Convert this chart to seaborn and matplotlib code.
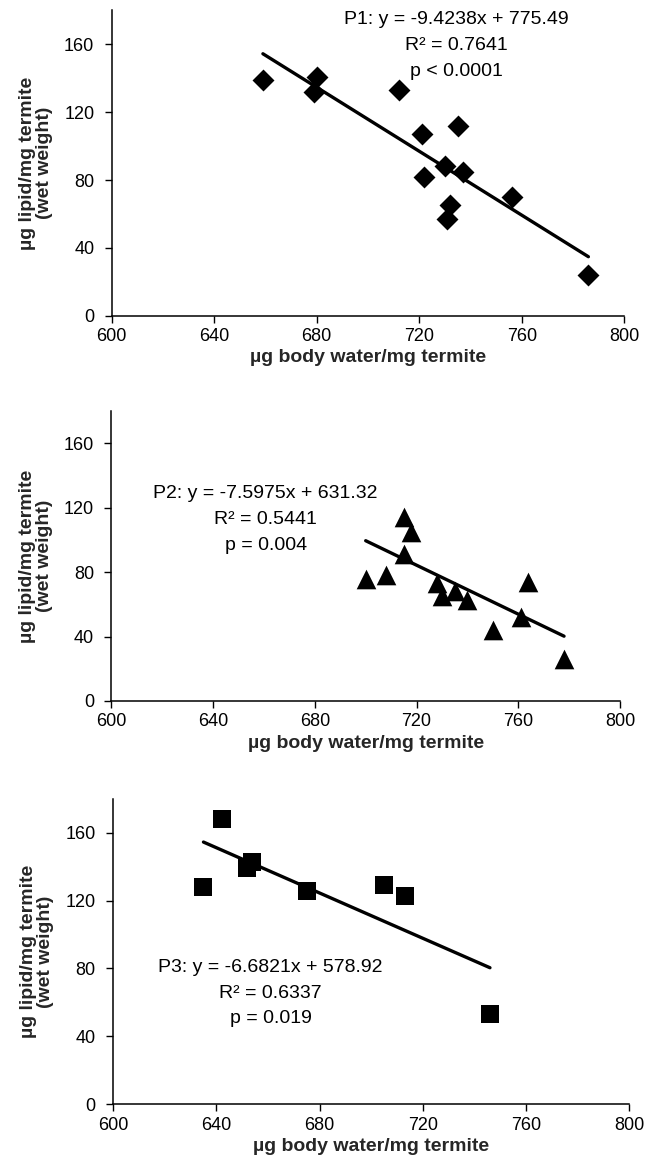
import numpy as np
import pandas as pd
import matplotlib
matplotlib.use("Agg")
import matplotlib.pyplot as plt
import seaborn as sns

# ---- data ----
p1_water = [659, 680, 679, 712, 721, 735, 722, 730, 737, 732, 731, 756, 786]
p1_lipid = [139, 141, 132, 133, 107, 112, 82, 88, 85, 65, 57, 70, 24]

p2_water = [700, 708, 715, 718, 715, 728, 730, 735, 740, 750, 761, 764, 778]
p2_lipid = [76, 78, 114, 105, 91, 73, 65, 68, 63, 44, 52, 74, 26]

p3_water = [642, 635, 652, 654, 675, 705, 713, 746]
p3_lipid = [168, 128, 139, 143, 126, 129, 123, 53]

# regression equations as printed (x expressed as % body water, i.e. water/10)
slopes = [-9.4238, -7.5975, -6.6821]
intercepts = [775.49, 631.32, 578.92]
r2_values = ["0.7641", "0.5441", "0.6337"]
p_labels = ["p < 0.0001", "p = 0.004", "p = 0.019"]
group_names = ["P1", "P2", "P3"]

x_ticks = [600, 640, 680, 720, 760, 800]
y_ticks = [0, 40, 80, 120, 160]

xlabel = "µg body water/mg termite"
ylabel = "µg lipid/mg termite\n(wet weight)"

# ---- style ----
sns.set_style("ticks")
plt.rcParams['font.family'] = ['Liberation Sans', 'DejaVu Sans']

fig = plt.figure(figsize=(6.49, 11.74), dpi=100)
axes_rects = [
    [0.1721, 0.7311, 0.7898, 0.2600],
    [0.1716, 0.4029, 0.7837, 0.2470],
    [0.1743, 0.0596, 0.7954, 0.2598],
]
markers = ["D", "^", "s"]
sizes = [125, 200, 170]
text_pos = [(734.5, 159.3), (660.7, 112.6), (661, 65.5)]

datasets = [(p1_water, p1_lipid), (p2_water, p2_lipid), (p3_water, p3_lipid)]

for i, (xs, ys) in enumerate(datasets):
    ax = fig.add_axes(axes_rects[i])
    df = pd.DataFrame({"water": xs, "lipid": ys})
    sns.scatterplot(data=df, x="water", y="lipid", marker=markers[i], s=sizes[i],
                    color="black", edgecolor="black", linewidth=0, ax=ax, zorder=3)
    xfit = np.array([min(xs), max(xs)], dtype=float)
    fit_df = pd.DataFrame({"water": xfit,
                           "lipid": slopes[i] * (xfit / 10.0) + intercepts[i]})
    sns.lineplot(data=fit_df, x="water", y="lipid", color="black",
                 linewidth=2.4, ax=ax, zorder=2)

    ax.set_xlim(600, 800)
    ax.set_ylim(0, 180)
    ax.set_xticks(x_ticks)
    ax.set_yticks(y_ticks)
    ax.tick_params(axis="both", labelsize=13, length=5, width=1, colors="black")
    ax.tick_params(axis="x", pad=4)
    ax.tick_params(axis="y", pad=7.5)
    for sp in ["top", "right"]:
        ax.spines[sp].set_visible(False)
    for sp in ["left", "bottom"]:
        ax.spines[sp].set_linewidth(1.1)
        ax.spines[sp].set_color("black")
    ax.set_xlabel(xlabel, fontsize=14, fontweight="bold", labelpad=3)
    ax.set_ylabel(ylabel, fontsize=14, fontweight="bold", labelpad=8, linespacing=1.0)

    txt = f"{group_names[i]}: y = {slopes[i]}x + {intercepts[i]:.2f}\nR² = {r2_values[i]}\n{p_labels[i]}"
    ax.text(text_pos[i][0], text_pos[i][1], txt, ha="center", va="center",
            fontsize=14, linespacing=1.68, color="black")

fig.savefig("out.png", dpi=100)
